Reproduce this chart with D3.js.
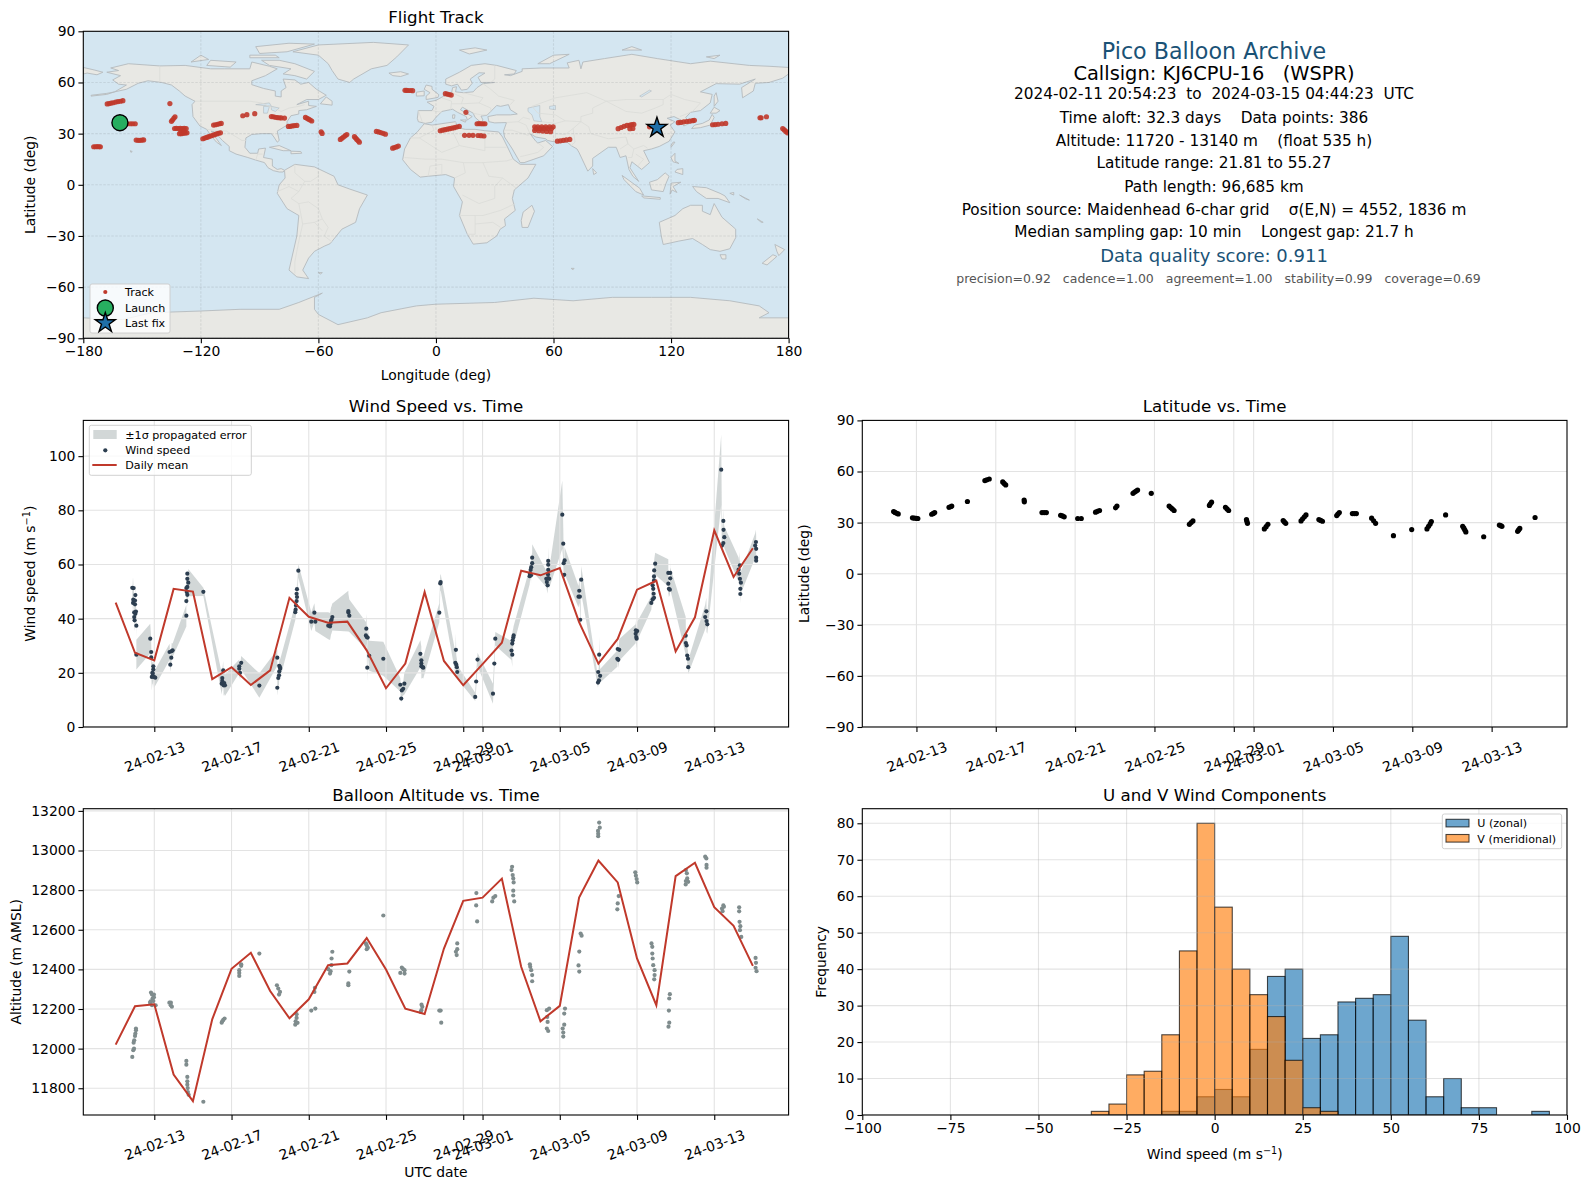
<!DOCTYPE html>
<html>
<head>
<meta charset="utf-8">
<script src="https://cdn.jsdelivr.net/npm/d3@7"></script>
<style>
html, body { margin: 0; padding: 0; background: #fff; }
svg { display: block; }
text { font-family: "DejaVu Sans", sans-serif; fill: #000; white-space: pre; }
</style>
</head>
<body>
<svg id="chart" width="1589" height="1189"></svg>
<script>
// land outlines, lon/lat by hand off the map
var northAmerica = [[-168,66],[-162,67],[-166,68.5],[-157,71],[-141,69.7],[-128,70],[-115,68],[-108,68],[-95,68],[-94,72],[-85,69.5],[-81,68],[-87,64],[-94,61],[-94,58.7],[-88,56.5],[-82,55],[-82,52],[-79,51.5],[-79,55],[-76.5,57],[-78,62],[-72,61.5],[-69,59],[-65,60],[-61,56],[-56,52.5],[-60,50],[-66,50],[-71,47],[-65,49],[-65,46.5],[-61,46],[-66,44],[-70,43.5],[-70,41.5],[-74,40.5],[-76,37],[-76,35],[-81,31.5],[-80,26],[-81,25],[-82.7,28],[-84,30],[-89,30],[-94,29.5],[-97,27.5],[-97.5,22],[-95,18.5],[-91,18.5],[-90.5,21],[-87,21.5],[-88,16],[-83.5,15],[-83.5,11],[-81,9],[-79,9.5],[-77.3,8.5],[-78,7.5],[-80,7.5],[-83,8.3],[-85.7,10],[-87.5,13],[-92,14.5],[-96,16],[-102,18],[-105.5,20],[-105.5,22.5],[-109,26],[-113,31],[-114.7,31.5],[-112,27],[-109.5,23],[-112,25],[-115,29],[-117,32.5],[-120.5,34.5],[-124,40],[-124.5,47],[-123,49],[-128,52],[-131,55],[-135,58.5],[-140,60],[-147,61],[-152,59.5],[-158,56],[-164,54.5],[-158,58.5],[-162,59],[-165,61.5],[-161,64],[-168,66]];
var southAmerica = [[-77.3,8.5],[-72,12],[-62,10.5],[-52,5],[-50,0],[-44,-2.5],[-35,-6],[-39,-14],[-41,-22],[-48,-26],[-54,-34.5],[-57,-36],[-62,-39],[-65,-43],[-68,-50],[-65,-55],[-71,-54],[-75,-50],[-73,-40],[-71,-30],[-70,-18],[-76,-14],[-81,-5],[-80,0],[-77,4],[-77.3,8.5]];
var greenland = [[-73,78],[-60,82],[-32,83.5],[-14,82],[-20,75],[-25,70],[-33,68],[-42,62],[-44,60],[-50,62],[-53,67],[-55,71],[-60,76],[-73,78]];
var africa = [[-6,35.8],[-2,35],[10,37],[11,33.5],[15,32.5],[20,32.5],[25,31.7],[32,31],[34,28],[37,21],[39.5,15],[43,12],[51,12],[47,4],[40,-3],[39,-8],[40.5,-15],[35,-20],[35.5,-24],[32.8,-26],[31,-30],[26,-34],[19,-34.8],[16,-29],[12,-18],[13.5,-10],[9,-1],[9.5,4],[5,6],[-4,5],[-8,4.5],[-13,9],[-17,14.7],[-16,21],[-13,27.5],[-9.5,31],[-6,35.8]];
var eurasia = [[-9,37],[-9.5,39],[-9,43.5],[-2,43.5],[-1,46],[-4.5,48.5],[0,49.5],[4,52],[8,54],[8.5,57],[10.5,57.5],[10,54.5],[14,54],[19,54.5],[21,57],[24,59.3],[30,60],[23,60],[21.5,63],[25,65.5],[22,65.7],[17.5,62],[18.5,59.5],[16,56],[13,55.5],[11,59],[8,58],[5,59],[5,62],[12,66],[18,70],[25,71],[31,70],[41,67],[40,65],[35,64.5],[38,64],[44,66.5],[44,68],[54,68.5],[68,68.5],[67,71.5],[73,73],[74,68],[75,72],[86,74],[100,76.5],[113,74],[130,71],[140,72.5],[160,70],[170,69.5],[180,68.8],[180,65],[177,62.5],[170,60],[163,59.5],[162,55],[156.5,51],[156,57],[163,62],[155,59],[143,59.3],[135,54.5],[141,53],[140,48],[135,43.5],[130,42.5],[127.5,39.5],[129.5,36],[126.5,34.5],[125,38],[121.5,40],[118,39],[122,37],[119.5,35],[122,31],[119,25.5],[114,22.5],[110,21],[106,20],[109,13],[105,9],[100,13.5],[99,10],[103.5,2],[100.5,5],[98.5,9],[97,17],[94,16],[92,22],[88,22],[80,15.5],[80,11],[77.5,8],[73,19],[72,21],[69,23],[67,25],[61,25],[57,26],[56,27],[51,28],[48,30],[51,25.5],[52,24.5],[56,26],[59.5,22.5],[55,17],[45,13],[43,13],[39,21],[35,28],[34.5,31.5],[36,36.5],[30,36.3],[27,37],[26.5,40],[31,41],[38,41],[41.5,41.5],[38,44],[37,47],[33,46],[31,46.5],[28,43],[26,40.7],[23,40.3],[24,38],[23,36.5],[20,39.5],[19,42],[13.5,45.5],[12.5,44],[18.5,40],[16,38],[15.5,40],[11,42.5],[8.5,44.3],[3,43],[0,39.5],[-2,36.7],[-5.5,36],[-9,37]];
var chukotka = [[-180,68.8],[-175,67.5],[-170,66],[-173,64.5],[-178,65.5],[-180,65]];
var australia = [[114,-22],[122,-18],[126,-14],[130,-12],[136,-12],[136,-15.5],[140,-17.5],[142,-11],[146,-19],[153,-26],[153,-31],[150,-37.5],[145,-39],[140,-38],[136,-35],[131,-31.5],[124,-33],[116,-35],[115,-30],[114,-22]];
var antarctica = [[-180,-78],[-160,-79],[-145,-75],[-120,-74],[-100,-73],[-80,-73],[-70,-69],[-58,-63.5],[-62,-66],[-62,-73],[-60,-76],[-50,-82],[-35,-78],[-28,-75],[-10,-71],[0,-70],[30,-69],[50,-66.5],[70,-68],[90,-66],[110,-66],[130,-66],[150,-68],[165,-71],[170,-75],[165,-78],[180,-78],[180,-90],[-180,-90]];
var islands = [
    [[-80,73],[-72,71],[-62,66.5],[-66,62],[-72,64],[-78,65],[-74,68],[-85,70],[-89,73]],
    [[-117,70],[-105,69],[-102,72],[-115,73]],
    [[-90,77],[-76,78],[-62,82.5],[-75,83],[-92,81]],
    [[-125,72],[-116,73.5],[-120,76]],
    [[-95,74.5],[-80,74.5],[-82,76],[-95,76]],
    [[-59,47.5],[-53,46.7],[-53,49],[-56,51.5]],
    [[-85,22],[-80,23],[-74,20],[-78,20]],
    [[-74,19.7],[-69,19.5],[-68.5,18.5],[-74,18.2]],
    [[-24,65.5],[-18,66.3],[-14,65],[-18,63.5],[-22,64]],
    [[-5,50],[1,51.2],[1.5,52.8],[-2,56],[-2,57.7],[-5,58.5],[-6,56],[-3,54],[-5,52]],
    [[-10,52],[-6,52.2],[-6,55],[-10,54.3]],
    [[12,79],[20,80.3],[26,79],[17,76.7]],
    [[52,71],[58,71],[68,76.5],[60,76]],
    [[95,79],[105,79],[100,81]],
    [[138,75],[145,76],[142,74]],
    [[-176,52],[-168,53],[-164,54.5],[-168,53.6],[-176,52.5]],
    [[142,46],[144,49],[143,54],[142,52]],
    [[130.5,33],[135,33.5],[140,35],[142,39.5],[141,41.3],[139.5,38],[136,36],[132,35]],
    [[140,42],[143,42],[145,43.5],[142,45.5]],
    [[120,22],[122,25],[121,25],[120,23]],
    [[120,16],[122,18.5],[122,14],[124,12.5],[121,13.5]],
    [[122,7.5],[126,6],[126,9.5],[123,9]],
    [[109,1.5],[113,3],[117,7],[119,5],[117.5,1],[116,-4],[110,-3]],
    [[95,5.5],[104,-2],[106,-6],[102,-4],[96,3]],
    [[105,-6.5],[114.5,-7.5],[114.5,-8.5],[106,-7.7]],
    [[119.5,-5.5],[120,1],[125,1.5],[121,-1],[123,-4.5],[120.5,-3]],
    [[131,-1],[138,-1.7],[145,-5],[147.5,-6.5],[150,-10.5],[144,-8],[138,-8],[133,-4]],
    [[44,-25],[47,-25],[50.3,-15.5],[49,-12],[44.5,-16],[43.5,-21]],
    [[80,9.5],[82,7],[80.5,6]],
    [[145,-41],[148,-41],[148,-43.5],[146,-43.5]],
    [[173,-35],[178,-38],[175,-41.5],[174,-39]],
    [[172,-41],[174,-42],[169,-47],[166.5,-46]],
    [[8.5,41],[9.7,41],[9.5,39],[8.5,39]],
    [[12.5,38],[15.5,38],[15,36.7]],
    [[24,35.4],[26,35.2],[25,34.9]],
    [[150,-5],[152,-4.5],[152,-6]],
    [[155,-6],[160,-9],[158,-8.2]],
    [[164,-20],[167,-22],[166,-22]],
    [[-60,-51.5],[-58,-51.5],[-59,-52.3]],
    [[69,-49],[70.5,-49],[70,-49.8]],
    [[-156,20],[-155,19.5],[-155.7,19]]
];
var lakes = [
    [[47,45],[53,46.5],[53,40],[54,37],[50,37.5],[49,41],[47,43]],
    [[-92,47],[-85,48],[-84,46],[-88,46.5]],
    [[-88,46],[-85,46],[-86,42],[-88,42]],
    [[-84,46],[-80,45],[-82,43],[-84,44]],
    [[58,46],[61,46.5],[61,44],[58,44.5]],
    [[104,52],[109,55.5],[110,55],[105,51.5]]
];
var borders = [
    [[-123,49],[-95,49],[-89,48],[-83,45],[-79,43],[-75,45],[-70,46],[-67,47]],
    [[-141,69.7],[-141,60]],
    [[-117,32.5],[-107,31.5],[-104,29.5],[-99,26],[-97,26]],
    [[-92,14.5],[-91,18],[-88.5,18]],
    [[-72,12],[-72,7],[-67,2],[-70,-4],[-74,-8],[-70,-11],[-69,-17],[-68,-23],[-70,-33],[-72,-45],[-72,-52]],
    [[-60,8],[-60,5],[-64,2],[-67,2]],
    [[-70,-11],[-65,-10],[-60,-14],[-58,-20],[-55,-25],[-57,-30],[-53,-33.5]],
    [[-68,-23],[-62,-22],[-58,-20]],
    [[-58,-27],[-62,-22]],
    [[-81,-4],[-75,-1],[-70,-4]],
    [[-13,27.5],[-8.5,27.5],[-1,32],[-2,35]],
    [[-8.5,27.5],[3,19],[12,23],[25,20],[25,31.7]],
    [[-16,16],[-5,15],[3,15],[14,13],[24,13],[36,14],[39,15]],
    [[10,37],[9,30],[12,23]],
    [[25,22],[36,22]],
    [[14,13],[15,7],[9.5,4]],
    [[24,13],[27,5],[34,4],[41,-2]],
    [[34,4],[30,-1],[30,-8],[22,-11],[13.5,-6]],
    [[12,-18],[24,-18],[33,-15],[40.5,-11]],
    [[20,-18],[20,-29],[16,-29]],
    [[20,-23],[29,-22],[33,-25]],
    [[-4,5],[-3,11],[3,12],[3,6]],
    [[-9,43.5],[-7,37]],
    [[-2,43.5],[3,42.5]],
    [[3,51],[8,49],[7.5,44]],
    [[8,54],[14,51],[13,47.5],[8,47.5]],
    [[14,54],[24,51],[22,48],[13,47.5]],
    [[24,59.3],[28,56],[32,52],[40,49.5],[38,47]],
    [[30,70],[30,62],[28,60]],
    [[22,48],[28,45],[28,43]],
    [[19,42],[23,41],[26,41]],
    [[36,36.5],[42,37],[44.5,39.5]],
    [[35,32],[39,32],[47,29],[48,30]],
    [[42,37],[46,35],[48,30]],
    [[44.5,39.5],[48,38.5]],
    [[52,24.5],[55,22],[52,19],[45,17],[43,16.5]],
    [[54,37],[61,36],[61,30],[61,25]],
    [[61,36],[66,37.5],[74,37]],
    [[61,30],[66,29.5],[70,33],[74,37],[78,34],[79,30],[88,27],[97,28],[98,24],[94,21]],
    [[70,33],[71,25],[69,23]],
    [[49,46],[52,42],[61,41],[66,37.5]],
    [[49,46],[61,51],[77,54],[87,49],[97,50],[107,50],[116,50],[120,53],[127,50],[135,48],[131,43]],
    [[87,49],[80,45],[80,42],[74,40],[74,37]],
    [[87,49],[97,43],[105,42],[112,45],[116,47],[116,50]],
    [[97,28],[98,24],[101,21],[106,23],[108,21.5]],
    [[101,21],[100,16],[98,16]],
    [[102,18],[106,15],[103,11]],
    [[124.5,40],[130,42.5]]
];

// track markers on the map
var trackLon = [-174.7,-173.8,-172.9,-172,-171.3,
    -167.8,-166.8,-165.8,-164.8,-163.5,-162.3,-161,-159.8,
    -159,-157.5,-156,-154.8,-153.5,
    -153,-152,-151,-150,-149.2,
    -135.8,
    -135,-134.5,-133.8,-133.2,
    -133.4,-132.5,-131.5,-130.5,-129.5,-128.5,-127.5,
    -130.9,-130,-129,-128,-127.1,-130.2,-128.6,
    -119,-118,-117,-116,-115,-114,-113,-112,-111,-110,
    -113.5,-112.5,-111.5,-110.5,-109.6,
    -98.6,-96.5,-92.5,
    -84,-83,-82,-81,-80,-79,-77.3,
    -75.3,-74.3,-73.3,-72.2,-71,
    -66.6,-65.8,-65,-64.2,-63.4,
    -58.6,-58.1,
    -48.8,-48,-47.2,-46.3,-45.5,
    -41.6,-41,-40.4,-39.7,-39.1,
    -30.4,-29.3,-28.2,-27,-25.8,
    -22.1,-21.2,-20.2,-19.2,
    -15.8,-15,-14.2,-13,-11.9,
    4.8,5.8,6.8,7.8,
    15.3,
    2.2,3.4,4.6,5.8,7,8.2,9.4,10.6,11.9,
    14.6,16.9,18.9,21.5,23,24.5,
    21,22,23,24,25,
    50.4,52,54,56,58,59.8,50.4,52.5,54.5,56.5,58.5,51,53,55,57,59,
    62,63.5,65,66.5,68.3,
    93,94.5,96,97.5,99,100,101,99,100.5,
    109,
    123.7,125,126.5,128,129.5,131,131.9,
    141.2,142.5,144,146,147.9,
    165.4,166,168.7,
    177,177.8,178.6,179.4];
var trackLat = [22.3,22.3,22.4,22.3,22.3,
    47.4,47.6,47.9,48.1,48.5,48.8,49,49.3,
    35.8,35.8,35.8,35.8,35.8,
    26.2,26.1,26.1,26.2,26.3,
    47.6,
    37.2,38,39,39.9,
    33,33.1,33,33.1,33,33.1,33,
    30,30,30.2,30.3,30.5,31,31.5,
    27,27.4,27.8,28.2,28.6,29,29.4,29.8,30.2,30.5,
    35,35.2,35.5,35.8,36,
    40.5,41.1,41.7,
    40,39.9,39.6,39.4,39.3,39.2,39.1,
    34.2,34.3,34.5,34.7,34.8,
    39.5,39,38.5,38,37.4,
    31.1,30.1,
    26.6,27.3,28,28.8,29.5,
    28.2,27.4,26.6,25.8,25,
    31.3,31,30.6,30.2,29.7,
    21.5,21.8,22.2,22.7,
    55.4,55.4,55.3,55.3,55.2,
    53.4,53.2,52.9,52.6,
    42.5,
    31.7,32,32.3,32.6,32.9,33.2,33.5,33.9,34.2,
    29,29,29,28.9,28.8,28.6,
    35.8,35.9,35.8,35.8,35.8,
    34,34,34,34,34,34,31.9,31.7,31.5,31.3,31.1,33,33,33,33,33,
    25.6,25.8,26.1,26.3,26.6,
    32.9,33.6,34.3,34.8,35,35.3,35.4,32.9,33,
    34,
    36.4,36.6,36.9,37.1,37.3,37.6,37.8,
    35.2,35.3,35.5,35.8,36,
    39.3,39.3,39.9,
    33,32.2,31.3,30.5];
var launchPos = [-161.3, 36.4];
var lastFixPos = [112.8, 33.5];

// wind speed samples: day offset from 24-02-13, value, sigma
var windT = [-1.14,-1.07,-0.98,-1.09,-1,-1.1,-1,-0.95,-1.04,-0.98,-1.04,-1.02,-0.93,-0.93,
    -0.21,-0.16,-0.16,-0.05,-0.05,-0.08,-0.13,-0.02,0.05,-0.1,
    0.79,0.9,0.95,0.88,0.83,
    1.66,1.66,1.66,1.71,1.76,1.71,1.71,1.71,1.68,
    2.54,
    3.57,3.52,3.52,3.49,3.59,3.66,3.62,
    4.5,4.4,4.4,4.44,
    5.44,
    6.37,6.47,6.52,6.47,6.46,6.42,6.37,6.51,
    7.46,7.39,7.37,7.39,7.37,7.34,7.32,7.3,
    8.13,8.29,8.34,
    9.01,9.1,9.13,9.18,9.22,9.15,
    10.05,10.05,10.1,
    10.98,10.96,11.05,11,11.13,11.03,
    11.86,
    12.74,12.95,12.89,12.82,12.79,
    13.78,13.83,13.83,13.9,13.93,13.83,
    14.76,14.83,14.81,
    15.62,15.59,15.64,15.67,15.69,
    16.74,16.67,16.62,
    17.54,17.61,17.66,
    18.5,18.54,18.54,18.56,18.59,18.61,
    19.44,19.45,19.49,19.52,19.57,19.57,19.51,
    20.37,20.33,20.3,20.4,20.45,20.39,20.4,20.4,20.4,
    21.13,21.18,21.25,21.2,21.23,
    22.11,22.01,21.97,22.04,22.06,
    23.04,22.99,23.09,23.03,22.98,
    24,24.08,23.98,24.03,
    24.94,25.01,24.93,24.96,24.98,
    25.94,25.89,25.88,25.88,25.81,25.84,25.86,25.88,25.81,25.74,
    26.62,26.72,26.72,26.62,26.65,26.7,
    27.52,27.53,27.57,27.6,27.64,27.65,
    28.59,28.53,28.6,28.64,
    29.36,29.47,29.48,29.52,29.47,29.4,
    30.33,30.26,30.29,30.33,30.38,30.35,30.35,
    31.16,31.12,31.17,31.17,31.17];
var windV = [51.4,51.3,48.7,47,46.7,45.8,45.3,42.6,42.3,41.8,40.6,39.4,37.4,26.7,
    32.6,27.7,25.7,22.4,21.2,19.7,18.5,18.5,18.2,20,
    27.7,28,28.3,25.6,23,
    41.1,46.5,51.3,51.7,53.3,54.7,56.6,48.8,49.8,
    49.9,
    20.9,18.1,17,16,15.4,15.4,16.2,
    23.7,22.4,21.5,20,
    15.3,
    25.6,22.6,21.5,20.5,19.1,18.1,14.5,22.1,
    57.7,50.9,49.2,48,46.5,44.9,43.3,42.4,
    38.9,42.2,38.9,
    37.4,37.1,38.1,39.6,40.6,39.1,
    42.8,42.3,41.1,
    36.3,33.8,33,33.2,26.3,21.9,
    25.2,
    15.6,16,14.1,13.5,10.5,
    27,24.6,23.4,22.1,21.9,22.4,
    42.2,53.5,53,
    28.5,23.7,23,22.1,20.3,
    24.9,16.8,11.1,
    12.3,23.4,32.6,
    28.2,26.7,30.8,32,33,33.8,
    55.7,56.6,58,59,60.5,62.5,56,
    52.3,53.5,54.7,55,54.7,56.3,58,59.9,61.3,
    78.4,67.7,61.5,60.5,56.2,
    54.4,50.3,48.1,48.1,39.6,
    26.7,20.3,18.9,17.2,16.4,
    28.8,28.5,25.2,24.8,
    35.7,35.4,34.4,33.2,32.6,
    60.3,57.8,55.6,54.1,52.3,51,49.2,47.7,47.1,45.8,
    56.9,56.9,54.9,52.9,51,50.7,
    33.7,31,30.1,26.4,25.2,22.1,
    42.7,40.6,39.1,37.9,
    95,76.1,72.8,70.1,67.9,67,
    59.7,58.1,56.6,54.7,53.3,51,49.1,
    68.3,67,65.8,62.5,61.4];
var windErr = [4,4,4,4,4,4,4,4,4,4,4,4,4,5.5,
    5.5,5,5,4,4,4,5,4,3,4,
    3,3,2.5,3,2.5,
    4,4,5,5,5,5.5,6,4.5,4.5,
    1.5,
    3.5,4,4,4,4,4,4,
    2.5,2.5,2.5,2.5,
    4.5,
    3,3.5,3.5,3.5,3.5,3.5,3,3.5,
    2.5,2.5,3,3,3,3,3,3,
    3.5,3.5,3.5,
    5,5,5,5,5,5,
    7.5,7,6,
    5.5,5,5,5,5.5,5.3,
    6.3,
    2.5,4,2.5,2.5,1.6,
    5,5,4.5,4,4,4.5,
    3.5,3,3,
    6,4,3.5,3,2.5,
    2.5,3,1.5,
    3.7,3,2.5,
    3.5,4.5,3.5,3.5,3.5,3.5,
    3,3,3,3.5,4,5,3,
    3,3,3,3.5,3.5,4,4,5,5,
    12.6,6,5,5,4,
    5,4.5,4,4,4,
    6.5,3,2.5,2.5,2,
    4,4,3,3,
    3.5,3.5,3.5,3.5,3.5,
    4,4,3.5,3.5,3.5,3.5,3,3,3,2.5,
    5,5,4,3.5,3,2,
    7,5,4,3,3,2.5,
    5,4.5,4,3.5,
    13,4.5,4,4,4,4.5,
    5,4.5,4.5,4,4,3.5,3.5,
    4.5,4.5,4.5,4,4];
// daily means, one per UTC day from 24-02-11 to 24-03-15
var windDaily = [45.9,27.4,24.6,51,50,17.7,22.1,15.5,20.9,47.7,40.7,38.5,38.9,28.3,14.3,23.4,49.8,24.4,15.4,23.2,31.1,57.7,56,58.7,38.7,23.4,32.5,50.7,54,27.9,40.5,72.6,55.4,66];
var altDaily = [12020,12214,12224,11869,11735,12148,12403,12484,12291,12153,12249,12421,12430,12558,12399,12202,12175,12505,12746,12762,12858,12413,12138,12216,12762,12949,12839,12455,12219,12871,12938,12714,12620,12418];

// altitude samples
var altT = [-1.14,-1.09,-1.05,-1.07,-1.04,-1,-0.98,-0.95,-0.95,
    -0.17,-0.12,-0.02,-0.02,-0.09,-0.19,-0.22,-0.12,0.07,-0.05,
    0.78,0.86,0.91,0.85,
    1.66,1.66,1.71,1.71,1.71,1.73,1.74,1.78,
    2.54,
    3.64,3.57,3.49,3.52,
    4.5,4.5,4.4,4.4,4.4,
    5.44,
    6.35,6.42,6.51,6.46,
    7.37,7.37,7.32,7.3,7.42,
    8.13,8.29,8.32,8.34,
    9.01,9.1,9.17,9.18,9.22,9.13,
    10.05,10.05,10.1,
    10.96,11,11,11.06,
    11.86,
    12.74,12.82,12.89,12.96,12.96,
    13.84,13.88,13.83,13.79,
    14.76,14.83,14.86,
    15.69,15.69,15.62,15.66,
    16.68,16.67,16.72,
    17.5,17.56,17.66,
    18.53,18.5,18.56,18.59,18.61,18.59,18.59,18.64,
    19.45,19.47,19.52,19.57,19.57,
    20.33,20.45,20.35,20.37,20.33,20.4,
    21.27,21.23,21.23,21.15,21.18,21.18,
    22.08,22.13,22.01,21.97,22.01,
    23.04,23.07,22.98,22.99,22.99,
    24.05,24,23.98,
    24.91,24.94,24.98,25.01,
    25.75,25.79,25.79,25.81,25.84,25.91,25.91,25.89,
    26.7,26.67,26.65,26.67,26.63,
    27.53,27.58,27.6,27.53,27.65,27.52,
    28.53,28.59,28.6,28.6,
    29.47,29.4,29.43,29.5,
    30.29,30.29,30.31,30.35,30.33,30.4,
    31.14,31.16,31.14,31.19];
var altV = [11958,11992,12000,12030,12042,12064,12076,12093,12101,
    12283,12273,12273,12259,12253,12239,12232,12219,12219,12240,
    12232,12232,12212,12219,
    11938,11919,11857,11835,11818,11801,11781,11767,
    11732,
    12152,12145,12131,12138,
    12426,12418,12396,12382,12367,
    12480,
    12320,12303,12286,12273,
    12174,12155,12138,12121,12130,
    12192,12286,12307,12202,
    12401,12379,12421,12455,12489,12391,
    12320,12329,12389,
    12531,12522,12502,12509,
    12672,
    12382,12409,12401,12396,12379,
    12222,12211,12194,12185,
    12192,12192,12131,
    12531,12502,12489,12472,
    12785,12723,12642,
    12743,12762,12770,
    12918,12901,12876,12859,12839,12797,12773,12743,
    12426,12413,12396,12371,12340,
    12194,12202,12160,12135,12101,12089,
    12202,12177,12121,12101,12081,12061,
    12581,12570,12490,12420,12389,
    13141,13115,13099,13084,13072,
    12770,12733,12703,
    12890,12873,12856,12839,
    12531,12514,12480,12455,12421,12396,12371,12350,
    12275,12253,12192,12131,12111,
    12901,12885,12859,12846,12842,12829,
    12969,12960,12927,12913,
    12723,12707,12694,12716,
    12713,12693,12640,12618,12598,12564,
    12458,12433,12408,12391];

// latitude samples
var latT = [-1.15,-1.08,-1,-0.92,
    -0.2,-0.1,0,0.07,
    0.77,0.85,0.92,
    1.64,1.72,1.78,
    2.57,
    3.45,3.55,3.67,
    4.35,4.42,4.5,
    5.43,5.44,
    6.33,6.44,6.55,
    7.27,7.36,7.45,
    8.13,8.31,
    9.03,9.13,9.23,
    10.04,10.11,
    10.92,11,11.08,11.15,
    11.84,
    12.74,12.82,12.9,12.99,
    13.76,13.85,13.94,
    14.77,14.82,14.88,
    15.58,15.66,15.74,
    16.64,16.66,16.69,
    17.54,17.63,17.72,
    18.49,18.55,18.62,
    19.39,19.47,19.56,19.64,
    20.29,20.38,20.47,
    21.19,21.25,21.32,
    21.98,22.08,22.18,
    22.95,23.05,23.15,
    24.05,
    24.97,
    25.74,25.82,25.9,25.96,
    26.68,
    27.54,27.6,27.65,27.7,
    28.6,
    29.39,29.46,29.52,
    30.31,30.36,30.42,
    31.19];
var latV = [36.5,36,35.5,35.1,
    32.8,32.6,32.5,32.4,
    34.9,35.4,35.9,
    38.9,39.3,39.7,
    42.4,
    54.7,55.1,55.6,
    53.9,53,52.1,
    43.2,42.2,
    35.9,35.9,35.9,
    34.3,33.9,33.4,
    32.4,32.4,
    36.1,36.6,37.1,
    38.7,39.7,
    47.2,47.9,48.5,49.1,
    47.2,
    39.7,38.8,38,37.1,
    29,30,31,
    40.1,41,42,
    38.9,38,37.1,
    31.8,30.8,29.6,
    26.3,27.6,29,
    31.2,30.4,29.6,
    31,32.2,33.4,34.5,
    31.8,31.3,30.8,
    34.1,35,35.9,
    35.3,35.3,35.3,
    32.6,31.1,29.6,
    22.3,
    25.9,
    26.3,27.8,29.2,30.6,
    34.5,
    27.8,26.7,25.6,24.5,
    21.7,
    28.6,28.2,27.8,
    24.9,25.7,26.6,
    33];

// histogram counts per 5 m/s bin
var binEdges = [-35,-30,-25,-20,-15,-10,-5,0,5,10,15,20,25,30,35,40,45,50,55,60,65,70,75,80,85,90,95];
var uCounts = [0,0,0,0,1,1,5,7,5,18,38,40,21,22,31,32,33,49,26,5,10,2,2,0,0,1];
var vCounts = [1,3,11,12,22,45,80,57,40,33,27,15,2,1,0,0,0,0,0,0,0,0,0,0,0,0];

var dateTicks = ["2024-02-13","2024-02-17","2024-02-21","2024-02-25","2024-02-29","2024-03-01","2024-03-05","2024-03-09","2024-03-13"].map(function(d) { return new Date(d + "T00:00:00Z"); });
var mapLonTicks = [-180,-120,-60,0,60,120,180];
var latTicks = [-90,-60,-30,0,30,60,90];
var windTicks = [0,20,40,60,80,100];
var altTicks = [11800,12000,12200,12400,12600,12800,13000,13200];
var histXTicks = [-100,-75,-50,-25,0,25,50,75,100];
var histYTicks = [0,10,20,30,40,50,60,70,80];

var infoLines = [
    "Pico Balloon Archive",
    "Callsign: KJ6CPU-16   (WSPR)",
    "2024-02-11 20:54:23  to  2024-03-15 04:44:23  UTC",
    "Time aloft: 32.3 days    Data points: 386",
    "Altitude: 11720 - 13140 m    (float 535 h)",
    "Latitude range: 21.81 to 55.27",
    "Path length: 96,685 km",
    "Position source: Maidenhead 6-char grid    \u03c3(E,N) = 4552, 1836 m",
    "Median sampling gap: 10 min    Longest gap: 21.7 h",
    "Data quality score: 0.911",
    "precision=0.92   cadence=1.00   agreement=1.00   stability=0.99   coverage=0.69"
];
var infoBaseline = [59, 79.5, 99.3, 122.6, 145.9, 168.2, 191.5, 214.8, 237.1, 262.2, 282.7];
var infoSize = [22.2, 19.4, 15.3, 15.3, 15.3, 15.3, 15.3, 15.3, 15.3, 18, 12.5];
var infoColor = ["#1a5276", "#000", "#000", "#000", "#000", "#000", "#000", "#000", "#000", "#1a5276", "#555"];
var infoShift = [0, 0, 0, 0, 0, 0, 0, 0, 0, 0, 4.5];

var RED = "#c0392b", SLATE = "#2c3e50", GREY = "#7f8c8d";
var BASE_DAY = Date.UTC(2024, 1, 13);
var DAY_MS = 864e5;

var svg = d3.select("#chart");
var defs = svg.append("defs");

var leftBox = { left: 83.3, right: 788.6 };
var rightBox = { left: 862.3, right: 1567 };
var mapBox = { left: 83.3, right: 788.6, top: 31.3, bottom: 338.3 };
var windBox = { left: 83.3, right: 788.6, top: 420.4, bottom: 727 };
var latBox = { left: 862.3, right: 1567, top: 420.4, bottom: 727 };
var altBox = { left: 83.3, right: 788.6, top: 808.7, bottom: 1115 };
var histBox = { left: 862.3, right: 1567, top: 808.7, bottom: 1115 };

var dayToDate = function(t) { return new Date(BASE_DAY + t * DAY_MS); };
var dailyDates = d3.utcDay.range(new Date(Date.UTC(2024, 1, 11)), new Date(Date.UTC(2024, 2, 16)));
var minusFmt = function(d) { return String(d).replace("-", "\u2212"); };

var xLeft = d3.scaleUtc()
    .domain([new Date(Date.UTC(2024, 1, 9, 7, 45)), new Date(Date.UTC(2024, 2, 16, 20, 24))])
    .range([leftBox.left, leftBox.right]);
var xRight = d3.scaleUtc()
    .domain([new Date(Date.UTC(2024, 1, 10, 6, 29)), new Date(Date.UTC(2024, 2, 16, 19, 12))])
    .range([rightBox.left, rightBox.right]);

var mapX = d3.scaleLinear().domain([-180, 180]).range([mapBox.left, mapBox.right]);
var mapY = d3.scaleLinear().domain([-90, 90]).range([mapBox.bottom, mapBox.top]);
var windY = d3.scaleLinear().domain([0, 113.2]).range([windBox.bottom, windBox.top]);
var latY = d3.scaleLinear().domain([-90, 90]).range([latBox.bottom, latBox.top]);
var altY = d3.scaleLinear().domain([11665, 13211]).range([altBox.bottom, altBox.top]);
var histX = d3.scaleLinear().domain([-100, 100]).range([histBox.left, histBox.right]);
var histY = d3.scaleLinear().domain([0, 84]).range([histBox.bottom, histBox.top]);

function clipFor(id, box) {
    defs.append("clipPath").attr("id", id).append("rect")
        .attr("x", box.left).attr("y", box.top)
        .attr("width", box.right - box.left).attr("height", box.bottom - box.top);
}

function drawGrid(g, box, xs, xVals, ys, yVals, stroke, dash) {
    g.selectAll(null).data(xVals).enter().append("line")
        .attr("x1", function(d) { return xs(d); }).attr("x2", function(d) { return xs(d); })
        .attr("y1", box.top).attr("y2", box.bottom)
        .attr("stroke", stroke).attr("stroke-width", 1.1).attr("stroke-dasharray", dash || null);
    g.selectAll(null).data(yVals).enter().append("line")
        .attr("y1", function(d) { return ys(d); }).attr("y2", function(d) { return ys(d); })
        .attr("x1", box.left).attr("x2", box.right)
        .attr("stroke", stroke).attr("stroke-width", 1.1).attr("stroke-dasharray", dash || null);
}

function styleAxis(g) {
    g.select(".domain").remove();
    g.selectAll(".tick line").attr("stroke", "#000").attr("stroke-width", 1.1);
    g.selectAll(".tick text").attr("font-size", 13.9).attr("font-family", '"DejaVu Sans"').attr("fill", "#000");
}

function drawFrame(box, xAxis, yAxis, title, dated) {
    svg.append("rect")
        .attr("x", box.left).attr("y", box.top)
        .attr("width", box.right - box.left).attr("height", box.bottom - box.top)
        .attr("fill", "none").attr("stroke", "#000").attr("stroke-width", 1.1);
    var xg = svg.append("g").attr("transform", "translate(0," + box.bottom + ")").call(xAxis).call(styleAxis);
    svg.append("g").attr("transform", "translate(" + box.left + ",0)").call(yAxis).call(styleAxis);
    if (dated) {
        // rotated labels, centred under the tick
        xg.selectAll(".tick text")
            .attr("text-anchor", "middle")
            .attr("y", 30).attr("dy", "0.35em")
            .attr("transform", "rotate(-20 0 30)");
    }
    svg.append("text")
        .attr("x", (box.left + box.right) / 2).attr("y", box.top - 8)
        .attr("text-anchor", "middle").attr("font-size", 16.67)
        .text(title);
}

function dateAxisFor(scale) {
    return d3.axisBottom(scale).tickValues(dateTicks).tickSize(4.9).tickSizeOuter(0)
        .tickFormat(d3.utcFormat("%y-%m-%d"));
}

function yLabel(x, y, parts) {
    var t = svg.append("text")
        .attr("transform", "translate(" + x + "," + y + ") rotate(-90)")
        .attr("text-anchor", "middle").attr("font-size", 13.9);
    appendParts(t, parts);
}

function xLabel(x, y, parts) {
    var t = svg.append("text")
        .attr("x", x).attr("y", y)
        .attr("text-anchor", "middle").attr("font-size", 13.9);
    appendParts(t, parts);
}

function appendParts(t, parts) {
    parts.forEach(function(p) {
        var s = t.append("tspan").text(p.text);
        if (p.sup) s.attr("font-size", 9.7).attr("dy", -5.5);
        if (p.down) s.attr("dy", 5.5);
    });
}

var windUnit = [{ text: "(m s" }, { text: "\u22121", sup: true }, { text: ")", down: true }];

// ---- flight track
clipFor("clip-map", mapBox);
var mapG = svg.append("g").attr("clip-path", "url(#clip-map)");
mapG.append("rect")
    .attr("x", mapBox.left).attr("y", mapBox.top)
    .attr("width", mapBox.right - mapBox.left).attr("height", mapBox.bottom - mapBox.top)
    .attr("fill", "#d4e6f1");

var lineGenerator = d3.line()
    .x(function(d) { return mapX(d[0]); })
    .y(function(d) { return mapY(d[1]); });

var landPolys = [northAmerica, southAmerica, greenland, africa, eurasia, chukotka, australia, antarctica].concat(islands);
mapG.selectAll(null).data(landPolys).enter().append("path")
    .attr("d", function(d) { return lineGenerator(d) + "Z"; })
    .attr("fill", "#e8e8e4").attr("stroke", "#b4babd").attr("stroke-width", 0.9).attr("stroke-linejoin", "round");
mapG.selectAll(null).data(lakes).enter().append("path")
    .attr("d", function(d) { return lineGenerator(d) + "Z"; })
    .attr("fill", "#d4e6f1").attr("stroke", "#b4babd").attr("stroke-width", 0.6);
mapG.selectAll(null).data(borders).enter().append("path")
    .attr("d", lineGenerator)
    .attr("fill", "none").attr("stroke", "#dbdcd8").attr("stroke-width", 0.8);

drawGrid(mapG, mapBox, mapX, mapLonTicks, mapY, latTicks, "rgba(120,130,135,0.18)", "2.5,1.5");

mapG.selectAll(null).data(trackLon).enter().append("circle")
    .attr("cx", function(d) { return mapX(d); })
    .attr("cy", function(d, i) { return mapY(trackLat[i]); })
    .attr("r", 2.6).attr("fill", RED).attr("fill-opacity", 0.9);

mapG.append("circle")
    .attr("cx", mapX(launchPos[0])).attr("cy", mapY(launchPos[1]))
    .attr("r", 8).attr("fill", "#27ae60").attr("stroke", "#000").attr("stroke-width", 1.4);
var starPath = d3.symbol(d3.symbolStar, 124)();
mapG.append("path")
    .attr("d", starPath)
    .attr("transform", "translate(" + mapX(lastFixPos[0]) + "," + mapY(lastFixPos[1]) + ")")
    .attr("fill", "#1f6fa8").attr("stroke", "#000").attr("stroke-width", 1.4);

drawFrame(mapBox,
    d3.axisBottom(mapX).tickValues(mapLonTicks).tickSize(4.9).tickSizeOuter(0).tickFormat(minusFmt),
    d3.axisLeft(mapY).tickValues(latTicks).tickSize(4.9).tickSizeOuter(0).tickFormat(minusFmt),
    "Flight Track");
xLabel((mapBox.left + mapBox.right) / 2, 380, [{ text: "Longitude (deg)" }]);
yLabel(35, (mapBox.top + mapBox.bottom) / 2, [{ text: "Latitude (deg)" }]);

// map legend
var mapLegend = svg.append("g");
mapLegend.append("rect")
    .attr("x", 90).attr("y", 284).attr("width", 80).attr("height", 49).attr("rx", 2)
    .attr("fill", "rgba(255,255,255,0.8)").attr("stroke", "#ccc").attr("stroke-width", 0.9);
mapLegend.append("circle").attr("cx", 105.3).attr("cy", 292).attr("r", 2.1).attr("fill", RED);
mapLegend.append("circle").attr("cx", 105.3).attr("cy", 308).attr("r", 8).attr("fill", "#27ae60").attr("stroke", "#000").attr("stroke-width", 1.4);
mapLegend.append("path").attr("d", starPath).attr("transform", "translate(105.3,323)").attr("fill", "#1f6fa8").attr("stroke", "#000").attr("stroke-width", 1.4);
["Track", "Launch", "Last fix"].forEach(function(s, i) {
    mapLegend.append("text").attr("x", 125).attr("y", [296, 312, 327][i]).attr("font-size", 11.1).text(s);
});

// ---- info block
var infoG = svg.append("g");
infoLines.forEach(function(s, i) {
    infoG.append("text")
        .attr("x", 1214 + infoShift[i]).attr("y", infoBaseline[i])
        .attr("text-anchor", "middle")
        .attr("font-size", infoSize[i])
        .style("fill", infoColor[i])
        .text(s);
});

// ---- wind speed
clipFor("clip-wind", windBox);
var windG = svg.append("g").attr("clip-path", "url(#clip-wind)");
var windOrder = d3.range(windT.length).sort(function(a, b) { return windT[a] - windT[b]; });
var windBand = d3.area()
    .x(function(i) { return xLeft(dayToDate(windT[i])); })
    .y0(function(i) { return windY(windV[i] - windErr[i]); })
    .y1(function(i) { return windY(windV[i] + windErr[i]); });
windG.append("path").attr("d", windBand(windOrder)).attr("fill", GREY).attr("fill-opacity", 0.35);
drawGrid(windG, windBox, xLeft, dateTicks, windY, windTicks, "#e3e3e3");
windG.selectAll(null).data(windOrder).enter().append("circle")
    .attr("cx", function(i) { return xLeft(dayToDate(windT[i])); })
    .attr("cy", function(i) { return windY(windV[i]); })
    .attr("r", 2.1).attr("fill", SLATE);
windG.append("path")
    .attr("d", d3.line().x(function(d, i) { return xLeft(dailyDates[i]); }).y(function(d) { return windY(d); })(windDaily))
    .attr("fill", "none").attr("stroke", RED).attr("stroke-width", 2);

drawFrame(windBox, dateAxisFor(xLeft),
    d3.axisLeft(windY).tickValues(windTicks).tickSize(4.9).tickSizeOuter(0),
    "Wind Speed vs. Time", true);
yLabel(35, (windBox.top + windBox.bottom) / 2, [{ text: "Wind speed " }].concat(windUnit));

var windLegend = svg.append("g");
windLegend.append("rect")
    .attr("x", 89.3).attr("y", 425.3).attr("width", 162).attr("height", 50).attr("rx", 2)
    .attr("fill", "rgba(255,255,255,0.8)").attr("stroke", "#ccc").attr("stroke-width", 0.9);
windLegend.append("rect").attr("x", 93.3).attr("y", 430).attr("width", 23.4).attr("height", 9).attr("fill", GREY).attr("fill-opacity", 0.35);
windLegend.append("circle").attr("cx", 105.3).attr("cy", 450.3).attr("r", 2.1).attr("fill", SLATE);
windLegend.append("line").attr("x1", 92.3).attr("x2", 116.7).attr("y1", 465).attr("y2", 465).attr("stroke", RED).attr("stroke-width", 2);
["\u00b11\u03c3 propagated error", "Wind speed", "Daily mean"].forEach(function(s, i) {
    windLegend.append("text").attr("x", 125.3).attr("y", [438.7, 453.9, 469.3][i]).attr("font-size", 11.1).text(s);
});

// ---- latitude
clipFor("clip-lat", latBox);
var latG = svg.append("g").attr("clip-path", "url(#clip-lat)");
drawGrid(latG, latBox, xRight, dateTicks, latY, latTicks, "#e3e3e3");
latG.selectAll(null).data(latT).enter().append("circle")
    .attr("cx", function(d) { return xRight(dayToDate(d)); })
    .attr("cy", function(d, i) { return latY(latV[i]); })
    .attr("r", 2.6).attr("fill", "#000");
drawFrame(latBox, dateAxisFor(xRight),
    d3.axisLeft(latY).tickValues(latTicks).tickSize(4.9).tickSizeOuter(0).tickFormat(minusFmt),
    "Latitude vs. Time", true);
yLabel(809, (latBox.top + latBox.bottom) / 2, [{ text: "Latitude (deg)" }]);

// ---- altitude
clipFor("clip-alt", altBox);
var altG = svg.append("g").attr("clip-path", "url(#clip-alt)");
drawGrid(altG, altBox, xLeft, dateTicks, altY, altTicks, "#e3e3e3");
altG.selectAll(null).data(altT).enter().append("circle")
    .attr("cx", function(d) { return xLeft(dayToDate(d)); })
    .attr("cy", function(d, i) { return altY(altV[i]); })
    .attr("r", 2.1).attr("fill", GREY);
altG.append("path")
    .attr("d", d3.line().x(function(d, i) { return xLeft(dailyDates[i]); }).y(function(d) { return altY(d); })(altDaily))
    .attr("fill", "none").attr("stroke", RED).attr("stroke-width", 2);
drawFrame(altBox, dateAxisFor(xLeft),
    d3.axisLeft(altY).tickValues(altTicks).tickSize(4.9).tickSizeOuter(0).tickFormat(d3.format("d")),
    "Balloon Altitude vs. Time", true);
yLabel(21, (altBox.top + altBox.bottom) / 2, [{ text: "Altitude (m AMSL)" }]);
xLabel((altBox.left + altBox.right) / 2, 1177, [{ text: "UTC date" }]);

// ---- histogram
clipFor("clip-hist", histBox);
var histG = svg.append("g").attr("clip-path", "url(#clip-hist)");
[[uCounts, "#1f77b4"], [vCounts, "#ff7f0e"]].forEach(function(s) {
    var idx = d3.range(s[0].length).filter(function(i) { return s[0][i] > 0; });
    histG.selectAll(null).data(idx).enter().append("rect")
        .attr("x", function(i) { return histX(binEdges[i]); })
        .attr("width", function(i) { return histX(binEdges[i + 1]) - histX(binEdges[i]); })
        .attr("y", function(i) { return histY(s[0][i]); })
        .attr("height", function(i) { return histY(0) - histY(s[0][i]); })
        .attr("fill", s[1]).attr("fill-opacity", 0.65)
        .attr("stroke", "#000").attr("stroke-opacity", 0.7).attr("stroke-width", 1.1);
});
drawGrid(histG, histBox, histX, histXTicks, histY, histYTicks, "rgba(176,176,176,0.35)");
drawFrame(histBox,
    d3.axisBottom(histX).tickValues(histXTicks).tickSize(4.9).tickSizeOuter(0).tickFormat(minusFmt),
    d3.axisLeft(histY).tickValues(histYTicks).tickSize(4.9).tickSizeOuter(0),
    "U and V Wind Components");
xLabel((histBox.left + histBox.right) / 2, 1159, [{ text: "Wind speed " }].concat(windUnit));
yLabel(826, (histBox.top + histBox.bottom) / 2, [{ text: "Frequency" }]);

var histLegend = svg.append("g");
histLegend.append("rect")
    .attr("x", 1442.3).attr("y", 814).attr("width", 119.4).attr("height", 34.7).attr("rx", 2)
    .attr("fill", "rgba(255,255,255,0.8)").attr("stroke", "#ccc").attr("stroke-width", 0.9);
[["U (zonal)", "#1f77b4", 819.3, 827.3], ["V (meridional)", "#ff7f0e", 834.5, 842.7]].forEach(function(s) {
    histLegend.append("rect").attr("x", 1446).attr("y", s[2]).attr("width", 23).attr("height", 7.6)
        .attr("fill", s[1]).attr("fill-opacity", 0.65).attr("stroke", "#000").attr("stroke-opacity", 0.7).attr("stroke-width", 1.1);
    histLegend.append("text").attr("x", 1477.3).attr("y", s[3]).attr("font-size", 11.1).text(s[0]);
});
</script>
</body>
</html>
